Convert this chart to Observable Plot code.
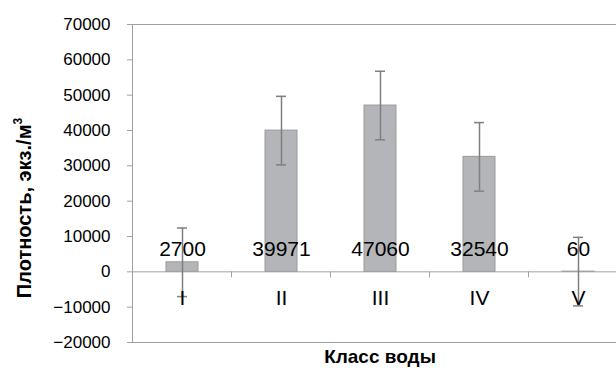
<!DOCTYPE html>
<html><head><meta charset="utf-8">
<script src="https://cdn.jsdelivr.net/npm/d3@7"></script>
<script src="https://cdn.jsdelivr.net/npm/@observablehq/plot@0.6"></script>
<style>html,body{margin:0;padding:0;background:#fff;overflow:hidden;} #chart{width:616px;height:368px;overflow:hidden} #chart svg{overflow:hidden;display:block}</style>
</head><body><div id="chart"></div>
<script>
const classes = ["I", "II", "III", "IV", "V"];
const density = [2700, 39971, 47060, 32540, 60];
const errors = [9700, 9700, 9700, 9700, 9700];
const yTicks = [-20000, -10000, 0, 10000, 20000, 30000, 40000, 50000, 60000, 70000];
const xTitle = "Класс воды";
const yTitle = "Плотность, экз./м";
const yTitleSup = "3";

const data = classes.map((c, i) => ({c, v: density[i], e: errors[i]}));
const fmt = d => d < 0 ? "\u2212" + Math.abs(d) : String(d);
const gray = "#a0a0a0";
const yDomain = [-20000, 70000];

const chart = Plot.plot({
  width: 616, height: 368,
  marginLeft: 132, marginRight: 0, marginTop: 24, marginBottom: 26,
  style: {fontFamily: "'Liberation Sans', Arial, sans-serif", background: "#fff", color: "#000"},
  x: {type: "band", domain: classes, range: [132, 628], paddingInner: 0.68, paddingOuter: 0.34, axis: null},
  y: {domain: yDomain, axis: null},
  marks: [
    Plot.ruleY(yDomain, {stroke: gray}),
    Plot.axisY(yTicks, {anchor: "left", tickSize: 5, tickPadding: 17, tickFormat: fmt, fontSize: 17, color: "#000", stroke: gray, label: null}),
    Plot.barY(data, {x: "c", y: "v", fill: "#b3b5b8", stroke: "#9a9a9a"}),
    Plot.ruleY([0], {stroke: gray}),
    Plot.ruleX(data, {x: "c", y1: d => d.v - d.e, y2: d => d.v + d.e, stroke: "#7f7f7f", strokeWidth: 1.5}),
    Plot.tickY(data, {x: "c", y: d => d.v + d.e, insetLeft: 11, insetRight: 11, stroke: "#7f7f7f", strokeWidth: 1.5}),
    Plot.tickY(data, {x: "c", y: d => d.v - d.e, insetLeft: 11, insetRight: 11, stroke: "#7f7f7f", strokeWidth: 1.5}),
    Plot.text(data, {x: "c", y: 0, dy: -23, text: d => String(d.v), fontSize: 21, fill: "#000"}),
    Plot.text(classes, {x: d => d, y: 0, dy: 26, text: d => d, fontSize: 21, fill: "#000"})
  ]
});
document.getElementById("chart").appendChild(chart);

const xs = chart.scale("x"), ys = chart.scale("y");
const svg = d3.select(chart);
const y0 = ys.apply(0);
const gap = xs.step - xs.bandwidth;
const xr = xs.range;
svg.append("line").attr("stroke", gray)
  .attr("x1", xr[0] + 0.5).attr("x2", xr[0] + 0.5)
  .attr("y1", ys.apply(yDomain[1])).attr("y2", ys.apply(yDomain[0]));
svg.append("g").attr("stroke", gray)
  .selectAll("line").data(classes.slice(1)).join("line")
  .attr("x1", c => xs.apply(c) - gap / 2).attr("x2", c => xs.apply(c) - gap / 2)
  .attr("y1", y0).attr("y2", y0 + 6);

svg.append("text")
  .attr("x", (xr[0] + xr[1]) / 2).attr("y", 363)
  .attr("text-anchor", "middle").attr("font-weight", "bold").attr("font-size", 19)
  .attr("font-family", "'Liberation Sans', Arial, sans-serif").attr("fill", "#000")
  .text(xTitle);

const yt = svg.append("text")
  .attr("transform", "translate(31,208) rotate(-90)")
  .attr("text-anchor", "middle").attr("font-weight", "bold").attr("font-size", 20)
  .attr("font-family", "'Liberation Sans', Arial, sans-serif").attr("fill", "#000");
yt.append("tspan").text(yTitle);
yt.append("tspan").attr("font-size", 12).attr("dy", -9).text(yTitleSup);
</script></body></html>
